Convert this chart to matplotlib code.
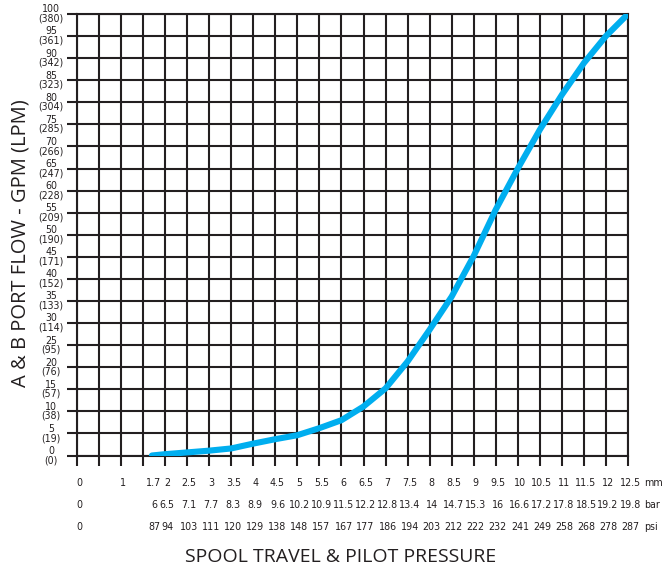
import numpy as np
import matplotlib.pyplot as plt
from matplotlib import font_manager
from matplotlib.font_manager import FontProperties

# spool travel (mm) vs flow (gpm)
travel_mm = [1.7, 2, 2.5, 3, 3.5, 4, 4.5, 5, 5.5, 6, 6.5, 7, 7.5, 8, 8.5,
             9, 9.5, 10, 10.5, 11, 11.5, 12, 12.5]
flow_gpm = [0, 0.3, 0.7, 1.1, 1.6, 2.7, 3.7, 4.6, 6.2, 8.0, 11.1, 15.2, 21.3,
            28.5, 36, 45.2, 55.7, 65, 73.8, 81.7, 88.9, 95, 100]

# bottom tick label rows
mm_labels = ['0', '1', '1.7', '2', '2.5', '3', '3.5', '4', '4.5', '5', '5.5',
             '6', '6.5', '7', '7.5', '8', '8.5', '9', '9.5', '10', '10.5',
             '11', '11.5', '12', '12.5']
bar_labels = ['0', '', '6', '6.5', '7.1', '7.7', '8.3', '8.9', '9.6', '10.2',
              '10.9', '11.5', '12.2', '12.8', '13.4', '14', '14.7', '15.3',
              '16', '16.6', '17.2', '17.8', '18.5', '19.2', '19.8']
psi_labels = ['0', '', '87', '94', '103', '111', '120', '129', '138', '148',
              '157', '167', '177', '186', '194', '203', '212', '222', '232',
              '241', '249', '258', '268', '278', '287']

gpm_ticks = list(range(0, 101, 5))
lpm_ticks = [0, 19, 38, 57, 76, 95, 114, 133, 152, 171, 190, 209, 228, 247,
             266, 285, 304, 323, 342, 361, 380]

# look for a narrow face for the tick labels
narrow = None
for f in font_manager.fontManager.ttflist:
    cond = f.stretch in ('condensed', 'semi-condensed', 'extra-condensed') \
        or 'Narrow' in f.name or 'Condensed' in f.name
    if cond and f.style == 'normal' and f.weight in (400, 'normal', 'regular'):
        narrow = FontProperties(fname=f.fname)
        break
if narrow is None:
    narrow = FontProperties(family='Liberation Sans')
    tick_size, ytick_size = 7.0, 7.0
else:
    tick_size, ytick_size = 7.7, 7.6

ink = '#231f20'

fig = plt.figure(figsize=(6.63, 5.67), dpi=100)
ax = fig.add_axes([77/663, 1 - 455.5/567, 551/663, 441.5/567])

ax.plot(travel_mm, flow_gpm, color='#00aeef', lw=4.4, solid_capstyle='round',
        zorder=3)

ax.set_xlim(0, 12.5)
ax.set_ylim(0, 100)
ax.set_xticks(np.arange(0, 12.51, 0.5))
ax.set_yticks(gpm_ticks)
ax.set_xticklabels([])
ax.set_yticklabels([])
ax.grid(True, color=ink, lw=1.5)
ax.tick_params(direction='out', length=7, width=1.5, color=ink)
for s in ax.spines.values():
    s.set_color(ink)
    s.set_linewidth(1.5)

# y labels: gpm over lpm
for g, l in zip(gpm_ticks, lpm_ticks):
    ax.annotate(f'{g}\n({l})', xy=(0, g), xycoords=('axes fraction', 'data'),
                xytext=(-18.5, 0), textcoords='offset points', ha='center',
                va='center', fontproperties=narrow, fontsize=ytick_size,
                linespacing=0.9, color=ink)

# x labels: mm / bar / psi rows
mm_pos = [0, 1, 1.7] + list(np.arange(2, 12.51, 0.5))
for row, labels in enumerate([mm_labels, bar_labels, psi_labels]):
    for x, t in zip(mm_pos, labels):
        ax.annotate(t, xy=(x, 0), xycoords=('data', 'axes fraction'),
                    xytext=(1.5, -19.8 - 15.9 * row), textcoords='offset points',
                    ha='center', va='center', fontproperties=narrow,
                    fontsize=tick_size, color=ink)
for row, unit in enumerate(['mm', 'bar', 'psi']):
    ax.annotate(unit, xy=(1, 0), xycoords='axes fraction',
                xytext=(11.5, -19.8 - 15.9 * row), textcoords='offset points',
                ha='left', va='center', fontproperties=narrow,
                fontsize=tick_size, color=ink)

fig.text(21/663, 1 - 243/567, 'A & B PORT FLOW - GPM (LPM)', rotation=90,
         ha='center', va='center', fontsize=14.5, family='Open Sans', color=ink)
fig.text(341/663, 1 - 557/567, 'SPOOL TRAVEL & PILOT PRESSURE', ha='center',
         va='center', fontsize=14, family='Open Sans', color=ink)

fig.savefig('out.png', dpi=100)
